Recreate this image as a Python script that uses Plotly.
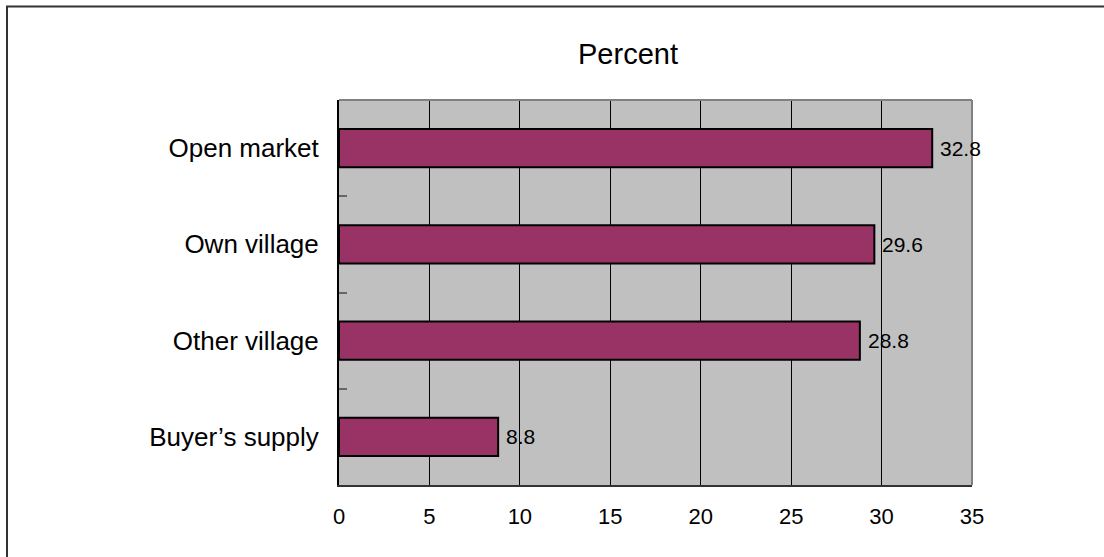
import plotly.graph_objects as go

# Where buyers obtain supply, share of responses (percent)
categories = ["Open market", "Own village", "Other village", "Buyer\u2019s supply"]
percent = [32.8, 29.6, 28.8, 8.8]
x_ticks = [0, 5, 10, 15, 20, 25, 30, 35]

W, H = 1104, 557
L, R, T, B = 339, 132, 100, 72
pw, ph = W - L - R, H - T - B

FONT = "Liberation Sans, Arial, sans-serif"

fig = go.Figure(
    go.Bar(
        x=percent,
        y=categories,
        orientation="h",
        marker=dict(color="#993366", line=dict(color="#000000", width=2)),
        hoverinfo="skip",
    )
)

# Value labels just past the end of each bar
for v, c in zip(percent, categories):
    fig.add_annotation(
        x=v, y=c, text=f"{v:.1f}", showarrow=False,
        xanchor="left", yanchor="middle", xshift=6,
        font=dict(family=FONT, size=21, color="#000000"),
    )

# Grey frame on top and right of the plotting area
fig.add_shape(type="line", xref="paper", yref="paper", x0=0, x1=1, y0=1, y1=1,
              line=dict(color="#808080", width=2), layer="above")
fig.add_shape(type="line", xref="paper", yref="paper", x0=1, x1=1, y0=0, y1=1,
              line=dict(color="#808080", width=2), layer="above")

# Outer chart border (runs off the right and bottom edges)
fig.add_shape(type="rect", xref="paper", yref="paper",
              x0=(7 - L) / pw, x1=(W + 20 - L) / pw,
              y0=-(B + 20) / ph, y1=(H - B - 6.5) / ph,
              line=dict(color="#333333", width=2), fillcolor="rgba(0,0,0,0)",
              layer="above")

fig.update_layout(
    width=W, height=H,
    margin=dict(l=L, r=R, t=T, b=B, pad=0),
    paper_bgcolor="#ffffff",
    plot_bgcolor="#c0c0c0",
    bargap=0.605,
    showlegend=False,
    font=dict(family=FONT, color="#000000"),
    title=dict(
        text="Percent", xref="container", yref="container",
        x=628 / W, y=1 - 54 / H, xanchor="center", yanchor="middle",
        font=dict(family=FONT, size=29, color="#000000"),
    ),
    xaxis=dict(
        range=[0, 35], tickvals=x_ticks, ticktext=[str(t) for t in x_ticks],
        showgrid=True, gridcolor="#000000", gridwidth=1,
        zeroline=False, showline=True, linecolor="#333333", linewidth=2,
        ticks="", ticklabelstandoff=11,
        tickfont=dict(family=FONT, size=22, color="#000000"),
        fixedrange=True,
    ),
    yaxis=dict(
        categoryorder="array", categoryarray=categories, autorange="reversed",
        showgrid=False, zeroline=False,
        showline=True, linecolor="#000000", linewidth=2,
        ticks="inside", tickson="boundaries", ticklen=8, tickwidth=2,
        tickcolor="#666666", ticklabelstandoff=13,
        tickfont=dict(family=FONT, size=26, color="#000000"),
        fixedrange=True,
    ),
)

fig.write_html("out.html")
